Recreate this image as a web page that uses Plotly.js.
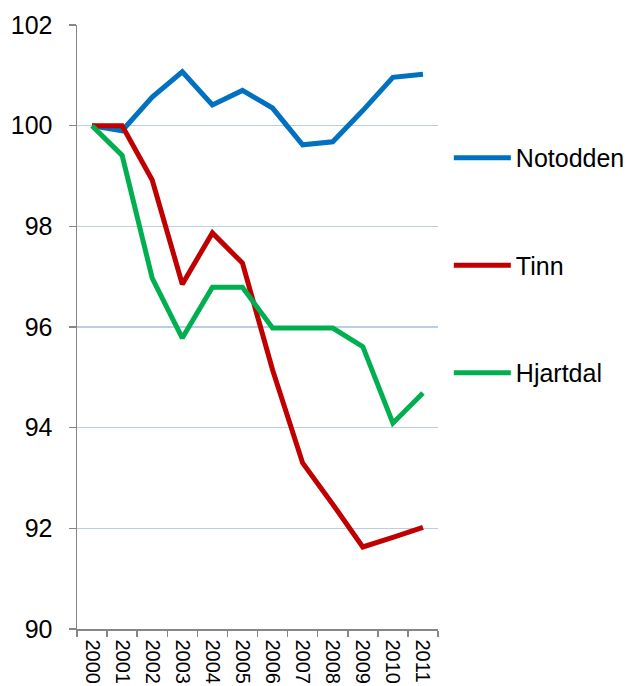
<!DOCTYPE html>
<html><head><meta charset="utf-8">
<script src="https://cdn.plot.ly/plotly-3.0.1.min.js"></script>
<style>html,body{margin:0;padding:0;background:#fff;}</style>
</head><body>
<div id="chart" style="width:632px;height:686px;"></div>
<script>
const years = ["2000","2001","2002","2003","2004","2005","2006","2007","2008","2009","2010","2011"];
const notodden = [100, 99.9, 100.57, 101.07, 100.41, 100.7, 100.35, 99.62, 99.68, 100.3, 100.96, 101.02];
const tinn = [100, 100, 98.92, 96.85, 97.87, 97.27, 95.15, 93.3, 92.48, 91.63, 91.82, 92.02];
const hjartdal = [100, 99.41, 96.97, 95.78, 96.79, 96.79, 95.98, 95.98, 95.98, 95.61, 94.09, 94.69];
const yTicks = [90, 92, 94, 96, 98, 100, 102];

const font = "Arial, 'Liberation Sans', sans-serif";
function tr(name, y, color, g) {
  return {x: years, y: y, name: name, type: 'scatter', mode: 'lines', legendgroup: g,
    line: {color: color, width: 5, shape: 'linear'}};
}
const data = [
  tr('Notodden', notodden, '#0070C0', 'a'),
  tr('Tinn', tinn, '#C00000', 'b'),
  tr('Hjartdal', hjartdal, '#00B050', 'c')
];
const layout = {
  width: 632, height: 686,
  margin: {l: 77, r: 194, t: 25, b: 57, pad: 0, autoexpand: false},
  paper_bgcolor: '#fff', plot_bgcolor: '#fff',
  showlegend: true,
  legend: {x: 1.03, y: 0.818, xanchor: 'left', yanchor: 'top', tracegroupgap: 72, itemwidth: 57,
    font: {family: font, size: 25, color: '#000'}, bgcolor: 'rgba(0,0,0,0)'},
  xaxis: {type: 'category', tickson: 'boundaries', ticks: 'outside', ticklen: 6, tickcolor: '#868686',
    tickwidth: 1.5, showline: true, linecolor: '#868686', linewidth: 1.5, showgrid: false,
    tickangle: 90, ticklabelstandoff: 5, tickfont: {family: font, size: 20, color: '#000'}, automargin: false,
    range: [-0.5, 11.5], fixedrange: true},
  yaxis: {range: [90, 102], tickvals: yTicks, ticktext: yTicks.map(String), ticks: 'outside', ticklen: 7,
    tickcolor: '#868686', tickwidth: 1.5, showline: true, linecolor: '#868686', linewidth: 1.5,
    showgrid: true, gridcolor: '#B9CDE5', gridwidth: 1.5, zeroline: false, ticklabelstandoff: 11,
    tickfont: {family: font, size: 25, color: '#000'}, automargin: false, fixedrange: true}
};
Plotly.newPlot('chart', data, layout, {displayModeBar: false, staticPlot: true});
</script>
</body></html>
